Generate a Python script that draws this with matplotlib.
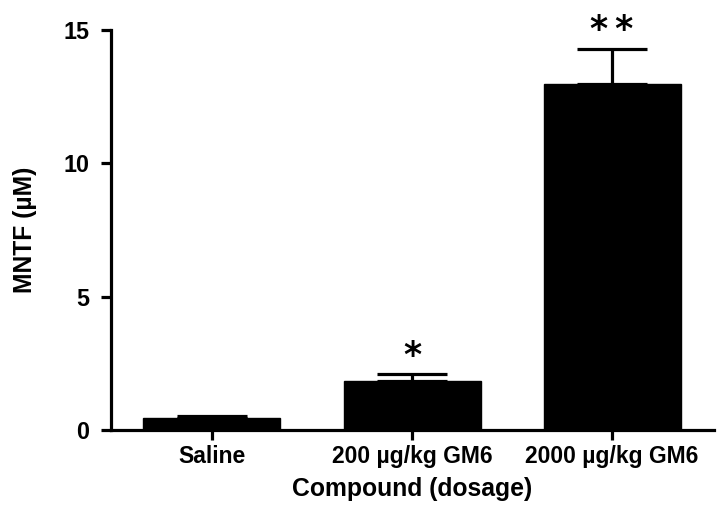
import matplotlib
matplotlib.use("Agg")
import matplotlib.pyplot as plt

categories = ["Saline", "200 \u00b5g/kg GM6", "2000 \u00b5g/kg GM6"]
means = [0.45, 1.82, 12.98]
errors = [0.08, 0.27, 1.32]
stars = ["", "*", "*\u2009*"]
yticks = [0, 5, 10, 15]

plt.rcParams['font.family'] = ['Liberation Sans', 'DejaVu Sans']
fig = plt.figure(figsize=(7.23, 5.13), dpi=100)
ax = fig.add_axes([0.1535, 0.1618, 0.9876 - 0.1535, 0.9415 - 0.1618])

x = list(range(len(categories)))
lw = 2.3
ax.bar(x, means, width=0.685, color='black', edgecolor='black', zorder=2)
ax.errorbar(x, means, yerr=[[0] * len(errors), errors], fmt='none', ecolor='black',
            elinewidth=lw, capsize=25, capthick=lw, zorder=3)

for xi, m, e, s in zip(x, means, errors, stars):
    if s:
        ax.text(xi, m + e + 0.05, s, ha='center', va='bottom', fontsize=25,
                fontweight='bold', family='DejaVu Sans', clip_on=False)

ax.set_xlim(-0.505, 2.51)
ax.set_ylim(0, 15)
ax.set_yticks(yticks)
ax.set_xticks(x)
ax.set_xticklabels(categories, fontsize=16.5, fontweight='bold')
ax.set_yticklabels([str(t) for t in yticks], fontsize=16.8, fontweight='bold')
for sp in ['top', 'right']:
    ax.spines[sp].set_visible(False)
for sp in ['left', 'bottom']:
    ax.spines[sp].set_linewidth(lw)
ax.tick_params(axis='y', length=7.5, width=lw, pad=8)
ax.tick_params(axis='x', length=7, width=lw, pad=4)
ax.set_xlabel("Compound (dosage)", fontsize=17.8, fontweight='bold', labelpad=6)
ax.set_ylabel("MNTF (\u00b5M)", fontsize=17.7, fontweight='bold', labelpad=19)

fig.savefig("out.png", dpi=100)
